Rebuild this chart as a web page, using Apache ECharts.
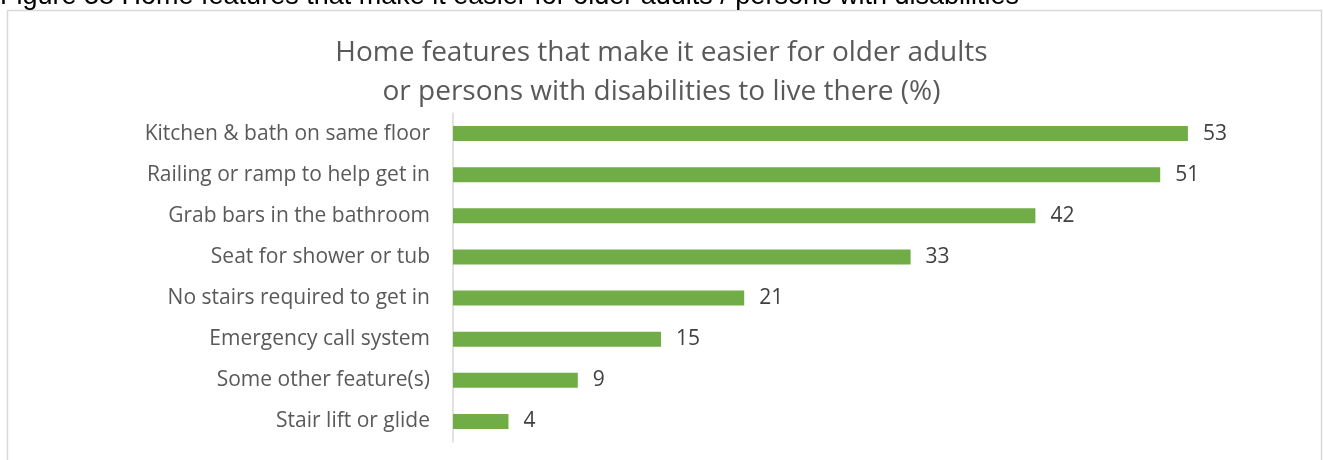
<!DOCTYPE html>
<html>
<head>
<meta charset="utf-8">
<script src="https://cdn.jsdelivr.net/npm/echarts@6/dist/echarts.min.js"></script>
<style>
  html, body { margin: 0; padding: 0; background: #fff; }
  #chart { width: 1323px; height: 460px; }
</style>
</head>
<body>
<div id="chart"></div>
<script>
// categories listed bottom to top (category axis on y starts at bottom)
const categories = [
  'Stair lift or glide',
  'Some other feature(s)',
  'Emergency call system',
  'No stairs required to get in',
  'Seat for shower or tub',
  'Grab bars in the bathroom',
  'Railing or ramp to help get in',
  'Kitchen & bath on same floor',
];
const values = [4, 9, 15, 21, 33, 42, 51, 53];

const chart = echarts.init(document.getElementById('chart'));

chart.setOption({
  animation: false,
  title: {
    text: 'Home features that make it easier for older adults\nor persons with disabilities to live there (%)',
    left: 'center',
    top: 29,
    textStyle: {
      fontFamily: 'Open Sans',
      fontSize: 28,
      fontWeight: 'normal',
      color: '#595959',
      lineHeight: 39,
    },
  },
  graphic: [
    {
      type: 'rect',
      shape: { x: 7.5, y: 10.5, width: 1314, height: 470 },
      style: { fill: 'none', stroke: '#d9d9d9', lineWidth: 1.5 },
      silent: true,
    },
    {
      type: 'text',
      left: 0,
      top: -17,
      style: {
        text: 'Figure 38 Home features that make it easier for older adults / persons with disabilities',
        fontFamily: 'Liberation Sans',
        fontSize: 27,
        fill: '#000',
      },
    },
  ],
  grid: {
    left: 453,
    top: 113,
    width: 832,
    height: 329,
    containLabel: false,
  },
  xAxis: {
    type: 'value',
    min: 0,
    max: 60,
    show: false,
  },
  yAxis: {
    type: 'category',
    data: categories,
    axisLine: { show: true, lineStyle: { color: '#d9d9d9', width: 1.5 } },
    axisTick: { show: false },
    axisLabel: {
      margin: 23,
      fontFamily: 'Open Sans',
      fontSize: 21,
      color: '#595959',
    },
  },
  series: [
    {
      type: 'bar',
      data: values,
      barWidth: 15,
      itemStyle: { color: '#70ad47' },
      label: {
        show: true,
        position: 'right',
        distance: 15,
        fontFamily: 'Open Sans',
        fontSize: 21,
        color: '#404040',
      },
    },
  ],
});
</script>
</body>
</html>
